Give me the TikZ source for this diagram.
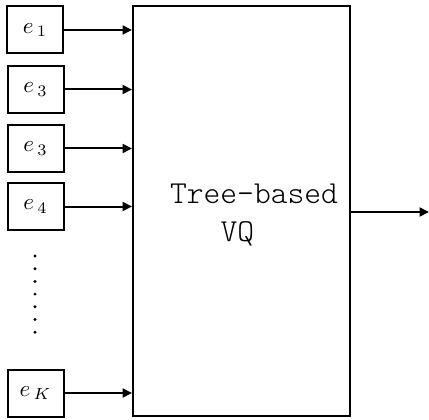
\documentclass[tikz,border=0pt]{standalone}
\usetikzlibrary{arrows.meta}
\newcommand{\vlabel}[1]{\scalebox{2.3}{$e_{\,#1}$}}
\begin{document}
\begin{tikzpicture}[x=1pt,y=-1pt,
  line width=2pt,
  inbox/.style={draw,rectangle,minimum width=56pt,minimum height=47pt,inner sep=0pt},
  bigbox/.style={draw,rectangle,minimum width=217pt,minimum height=410pt,inner sep=0pt},
  label/.style={inner sep=0pt,font=\ttfamily\fontseries{l}\fontsize{32}{35}\selectfont},
  arr/.style={-{Triangle[length=9.5pt,width=9pt]}},
  dot/.style={fill,circle,inner sep=0pt,minimum size=3.2pt}]
\useasboundingbox (0,0) rectangle (429,420);

% input vectors
\node[inbox] (e1) at (35,30) {\vlabel{1}};
\node[inbox] (e3a) at (35.5,89.5) {\vlabel{3}};
\node[inbox] (e3b) at (35.5,148.5) {\vlabel{3}};
\node[inbox] (e4) at (35.5,206.5) {\vlabel{4}};
\node[inbox] (eK) at (35.5,393) {\vlabel{K}};

% quantizer block
\node[bigbox] (vq) at (241.5,211) {};
\node[label,anchor=base west] (t1) at (169,204) {Tree-based};
\node[label,anchor=base west] (t2) at (219.5,241) {VQ};

% vertical ellipsis
\foreach \i in {0,...,6}
  \node[dot] (d\i) at (35,256+12.7*\i) {};

% connectors
\foreach \n in {e1,e3a,e3b,e4,eK}
  \draw[arr] (\n.east) -- (\n.east -| vq.west);
\coordinate (out) at (429,212);
\draw[arr] (vq.east |- out) -- (out);
\end{tikzpicture}
\end{document}
